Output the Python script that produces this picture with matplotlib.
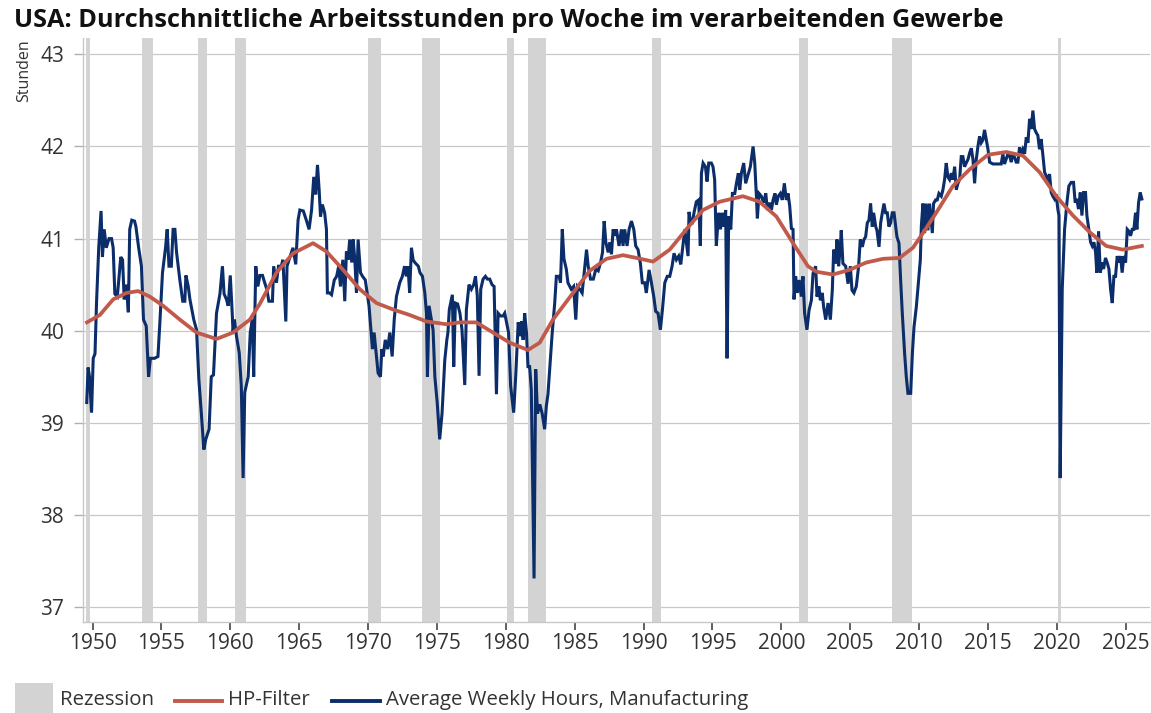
import matplotlib
matplotlib.use("Agg")
import matplotlib.pyplot as plt
from matplotlib.patches import Rectangle
from matplotlib.lines import Line2D

plt.rcParams['font.family'] = ['Open Sans', 'DejaVu Sans']

# Average weekly hours, manufacturing (decimal year, hours)
dates = [
    1949.58, 1949.68, 1949.78, 1949.93, 1950.05, 1950.18, 1950.29, 1950.45, 1950.62, 1950.72,
    1950.85, 1951.0, 1951.2, 1951.38, 1951.5, 1951.62, 1951.8, 1952.05, 1952.18, 1952.3,
    1952.45, 1952.6, 1952.7, 1952.85, 1953.05, 1953.15, 1953.35, 1953.55, 1953.7, 1953.9,
    1954.07, 1954.2, 1954.5, 1954.75, 1954.9, 1955.08, 1955.3, 1955.42, 1955.55, 1955.72,
    1955.85, 1955.98, 1956.1, 1956.34, 1956.55, 1956.7, 1956.78, 1956.95, 1957.07, 1957.35,
    1957.55, 1957.72, 1957.9, 1958.08, 1958.22, 1958.46, 1958.62, 1958.78, 1959.0, 1959.25,
    1959.43, 1959.55, 1959.72, 1959.85, 1960.0, 1960.15, 1960.2, 1960.3, 1960.45, 1960.65,
    1960.8, 1960.93, 1961.05, 1961.3, 1961.45, 1961.6, 1961.7, 1961.85, 1962.0, 1962.15,
    1962.34, 1962.5, 1962.65, 1962.8, 1963.06, 1963.15, 1963.35, 1963.5, 1963.7, 1963.82,
    1964.03, 1964.12, 1964.33, 1964.55, 1964.75, 1964.92, 1965.05, 1965.3, 1965.52, 1965.72,
    1965.9, 1966.06, 1966.2, 1966.33, 1966.45, 1966.55, 1966.68, 1966.85, 1966.98, 1967.05,
    1967.2, 1967.35, 1967.55, 1967.72, 1967.87, 1968.0, 1968.17, 1968.31, 1968.43, 1968.55,
    1968.67, 1968.82, 1968.92, 1969.04, 1969.16, 1969.28, 1969.45, 1969.6, 1969.8, 1970.07,
    1970.22, 1970.32, 1970.44, 1970.56, 1970.73, 1970.9, 1971.0, 1971.1, 1971.25, 1971.42,
    1971.58, 1971.75, 1971.9, 1972.06, 1972.3, 1972.49, 1972.65, 1972.78, 1972.9, 1973.02,
    1973.15, 1973.27, 1973.4, 1973.65, 1973.77, 1973.95, 1974.12, 1974.24, 1974.31, 1974.43,
    1974.6, 1974.72, 1974.85, 1975.02, 1975.2, 1975.37, 1975.57, 1975.72, 1975.8, 1975.9,
    1976.12, 1976.22, 1976.34, 1976.5, 1976.67, 1976.82, 1977.02, 1977.14, 1977.33, 1977.5,
    1977.67, 1977.8, 1977.93, 1978.06, 1978.18, 1978.35, 1978.52, 1978.66, 1978.83, 1979.0,
    1979.15, 1979.32, 1979.44, 1979.61, 1979.8, 1979.92, 1980.05, 1980.2, 1980.35, 1980.57,
    1980.72, 1980.9, 1981.02, 1981.14, 1981.26, 1981.37, 1981.5, 1981.61, 1981.73, 1981.85,
    1982.05, 1982.17, 1982.3, 1982.47, 1982.64, 1982.82, 1982.94, 1983.06, 1983.22, 1983.37,
    1983.55, 1983.67, 1983.87, 1983.97, 1984.1, 1984.22, 1984.39, 1984.51, 1984.75, 1984.92,
    1985.08, 1985.2, 1985.37, 1985.54, 1985.66, 1985.86, 1985.98, 1986.15, 1986.35, 1986.54,
    1986.71, 1986.88, 1987.02, 1987.14, 1987.26, 1987.43, 1987.55, 1987.67, 1987.79, 1987.91,
    1988.03, 1988.22, 1988.39, 1988.51, 1988.63, 1988.8, 1988.95, 1989.12, 1989.29, 1989.43,
    1989.6, 1989.77, 1989.91, 1990.08, 1990.2, 1990.4, 1990.57, 1990.74, 1990.88, 1991.05,
    1991.22, 1991.37, 1991.54, 1991.72, 1991.9, 1992.07, 1992.21, 1992.38, 1992.55, 1992.7,
    1992.82, 1992.99, 1993.11, 1993.23, 1993.3, 1993.42, 1993.54, 1993.66, 1993.83, 1994.0,
    1994.12, 1994.2, 1994.32, 1994.49, 1994.61, 1994.73, 1994.92, 1995.04, 1995.16, 1995.28,
    1995.41, 1995.48, 1995.58, 1995.72, 1995.84, 1995.96, 1996.06, 1996.18, 1996.33, 1996.45,
    1996.62, 1996.74, 1996.88, 1996.98, 1997.1, 1997.27, 1997.41, 1997.58, 1997.75, 1997.85,
    1997.95, 1998.07, 1998.19, 1998.26, 1998.38, 1998.55, 1998.72, 1998.87, 1998.99, 1999.16,
    1999.28, 1999.4, 1999.54, 1999.64, 1999.78, 1999.93, 2000.07, 2000.22, 2000.36, 2000.49,
    2000.61, 2000.73, 2000.85, 2000.92, 2001.04, 2001.16, 2001.3, 2001.45, 2001.57, 2001.69,
    2001.86, 2002.01, 2002.18, 2002.3, 2002.49, 2002.59, 2002.73, 2002.83, 2002.97, 2003.07,
    2003.22, 2003.39, 2003.56, 2003.7, 2003.8, 2003.94, 2004.04, 2004.16, 2004.28, 2004.35,
    2004.47, 2004.67, 2004.84, 2005.01, 2005.13, 2005.27, 2005.44, 2005.61, 2005.73, 2005.88,
    2006.0, 2006.12, 2006.24, 2006.36, 2006.48, 2006.6, 2006.7, 2006.85, 2006.94, 2007.09,
    2007.21, 2007.33, 2007.45, 2007.57, 2007.69, 2007.81, 2007.93, 2008.05, 2008.18, 2008.3,
    2008.39, 2008.54, 2008.66, 2008.78, 2008.95, 2009.07, 2009.19, 2009.39, 2009.51, 2009.63,
    2009.8, 2009.94, 2010.09, 2010.16, 2010.28, 2010.4, 2010.52, 2010.64, 2010.76, 2010.96,
    2011.05, 2011.2, 2011.32, 2011.44, 2011.61, 2011.73, 2011.85, 2011.97, 2012.09, 2012.21,
    2012.34, 2012.46, 2012.58, 2012.7, 2012.82, 2012.94, 2013.06, 2013.18, 2013.3, 2013.42,
    2013.55, 2013.67, 2013.79, 2013.91, 2014.03, 2014.15, 2014.27, 2014.39, 2014.51, 2014.63,
    2014.75, 2014.88, 2015.0, 2015.12, 2015.36, 2015.72, 2015.96, 2016.08, 2016.2, 2016.45,
    2016.57, 2016.69, 2016.81, 2017.05, 2017.17, 2017.29, 2017.41, 2017.53, 2017.66, 2017.78,
    2017.9, 2018.02, 2018.14, 2018.26, 2018.38, 2018.5, 2018.62, 2018.74, 2018.86, 2018.99,
    2019.11, 2019.23, 2019.35, 2019.47, 2019.59, 2019.71, 2019.83, 2019.95, 2020.07, 2020.15,
    2020.24, 2020.39, 2020.56, 2020.73, 2020.87, 2021.04, 2021.21, 2021.33, 2021.45, 2021.57,
    2021.7, 2021.82, 2021.94, 2022.08, 2022.18, 2022.32, 2022.45, 2022.57, 2022.69, 2022.81,
    2022.9, 2023.03, 2023.15, 2023.29, 2023.39, 2023.53, 2023.65, 2023.78, 2023.9, 2024.02,
    2024.14, 2024.26, 2024.38, 2024.5, 2024.62, 2024.74, 2024.86, 2024.99, 2025.11, 2025.23,
    2025.35, 2025.47, 2025.59, 2025.71, 2025.81, 2025.93, 2026.05, 2026.17,
]
hours = [
    39.22, 39.6, 39.5, 39.11, 39.7, 39.75, 40.3, 40.9, 41.3, 40.8,
    41.1, 40.9, 41.0, 41.0, 40.9, 40.4, 40.37, 40.8, 40.77, 40.34,
    40.5, 40.2, 41.1, 41.2, 41.19, 41.13, 40.9, 40.7, 40.12, 40.05,
    39.5, 39.7, 39.7, 39.72, 40.12, 40.63, 40.9, 41.1, 40.7, 40.7,
    41.1, 41.1, 40.85, 40.55, 40.32, 40.32, 40.6, 40.48, 40.34, 40.12,
    40.01, 39.47, 39.1, 38.71, 38.82, 38.93, 39.5, 39.52, 40.19, 40.4,
    40.7, 40.4, 40.34, 40.27, 40.6, 40.16, 39.98, 40.12, 39.94, 39.76,
    39.4, 38.4, 39.33, 39.5, 39.98, 40.12, 39.5, 40.7, 40.48, 40.6,
    40.6, 40.52, 40.45, 40.32, 40.32, 40.7, 40.52, 40.7, 40.7, 40.77,
    40.1, 40.7, 40.8, 40.9, 40.72, 41.2, 41.31, 41.3, 41.2, 41.1,
    41.31, 41.67, 41.48, 41.8, 41.53, 41.24, 41.37, 41.28, 41.1, 40.41,
    40.41, 40.39, 40.55, 40.59, 40.7, 40.48, 40.77, 40.32, 40.86, 40.77,
    40.99, 40.74, 40.99, 40.77, 40.41, 40.99, 40.63, 40.59, 40.55, 40.27,
    39.98, 39.8, 39.98, 39.8, 39.54, 39.5, 39.8, 39.72, 39.9, 39.8,
    39.98, 39.72, 40.12, 40.37, 40.52, 40.59, 40.7, 40.59, 40.7, 40.41,
    40.9, 40.77, 40.74, 40.7, 40.63, 40.59, 40.41, 40.19, 39.5, 40.27,
    40.12, 40.01, 39.5, 39.22, 38.82, 39.1, 39.68, 39.9, 39.98, 40.23,
    40.39, 39.61, 40.3, 40.29, 40.19, 40.01, 39.41, 40.23, 40.5, 40.45,
    40.5, 40.59, 40.38, 39.51, 40.45, 40.56, 40.59, 40.56, 40.56, 40.5,
    40.48, 39.31, 40.19, 40.16, 40.16, 40.19, 40.09, 39.98, 39.4, 39.11,
    39.51, 40.09, 39.94, 40.1, 39.9, 40.19, 39.98, 39.61, 39.61, 39.36,
    37.31, 39.58, 39.1, 39.2, 39.1, 38.93, 39.18, 39.31, 39.65, 39.98,
    40.3, 40.59, 40.59, 40.52, 41.1, 40.78, 40.67, 40.52, 40.45, 40.48,
    40.12, 40.48, 40.45, 40.41, 40.59, 40.88, 40.7, 40.56, 40.56, 40.67,
    40.65, 40.74, 40.85, 41.19, 40.96, 40.85, 40.96, 40.83, 41.1, 41.03,
    41.1, 40.92, 41.1, 40.92, 41.1, 40.92, 41.1, 41.19, 41.1, 40.92,
    40.88, 40.73, 40.52, 40.52, 40.41, 40.66, 40.52, 40.37, 40.21, 40.19,
    40.01, 40.23, 40.52, 40.59, 40.59, 40.7, 40.84, 40.77, 40.81, 40.72,
    40.88, 41.1, 40.95, 40.81, 41.29, 41.17, 41.17, 41.28, 41.4, 41.42,
    40.92, 41.71, 41.82, 41.78, 41.62, 41.82, 41.82, 41.78, 41.64, 40.92,
    41.2, 41.28, 41.1, 41.28, 41.13, 41.31, 39.7, 41.24, 41.1, 41.49,
    41.49, 41.6, 41.71, 41.53, 41.71, 41.82, 41.6, 41.69, 41.78, 41.89,
    42.0, 41.82, 41.46, 41.22, 41.49, 41.46, 41.39, 41.49, 41.31, 41.39,
    41.31, 41.42, 41.49, 41.37, 41.46, 41.49, 41.42, 41.6, 41.42, 41.49,
    41.35, 41.11, 41.1, 40.34, 40.59, 40.41, 40.55, 40.37, 40.59, 40.19,
    40.01, 40.22, 40.33, 40.62, 40.7, 40.37, 40.48, 40.33, 40.41, 40.26,
    40.12, 40.3, 40.12, 40.44, 40.88, 40.73, 40.99, 40.7, 40.91, 41.09,
    40.73, 40.7, 40.51, 40.7, 40.44, 40.41, 40.48, 40.7, 40.99, 40.91,
    40.99, 41.02, 41.17, 41.2, 41.38, 41.13, 41.28, 41.13, 41.09, 40.91,
    41.17, 41.28, 41.38, 41.28, 41.28, 41.13, 41.17, 41.28, 41.28, 41.13,
    41.02, 40.95, 40.55, 40.19, 39.75, 39.5, 39.32, 39.32, 39.75, 40.04,
    40.26, 40.51, 40.77, 41.13, 41.38, 41.06, 41.38, 41.09, 41.38, 41.06,
    41.38, 41.42, 41.42, 41.49, 41.46, 41.53, 41.64, 41.82, 41.67, 41.64,
    41.71, 41.64, 41.78, 41.53, 41.6, 41.64, 41.89, 41.89, 41.78, 41.82,
    41.86, 41.93, 41.98, 41.86, 41.6, 41.86, 42.0, 42.11, 42.04, 42.07,
    42.18, 42.07, 41.97, 41.83, 41.81, 41.81, 41.81, 41.92, 41.81, 41.92,
    41.9, 41.83, 41.93, 41.83, 41.83, 41.99, 41.92, 41.97, 41.92, 42.1,
    42.04, 42.3, 42.19, 42.39, 42.19, 42.15, 42.12, 41.97, 42.08, 41.9,
    41.72, 41.68, 41.64, 41.7, 41.5, 41.46, 41.43, 41.48, 41.32, 41.25,
    38.4, 40.45, 41.1, 41.39, 41.57, 41.61, 41.61, 41.39, 41.43, 41.32,
    41.5, 41.25, 41.5, 41.5, 41.25, 41.1, 40.96, 40.92, 40.96, 40.85,
    40.63, 41.08, 40.63, 40.74, 40.67, 40.79, 40.74, 40.67, 40.45, 40.3,
    40.59, 40.59, 40.81, 40.74, 40.81, 40.63, 40.81, 40.74, 41.1, 41.08,
    41.03, 41.1, 41.1, 41.28, 41.1, 41.39, 41.5, 41.43,
]

# HP-filter trend
hp_dates = [
    1949.6, 1950.53, 1951.5, 1952.47, 1953.31, 1954.16, 1955.13, 1956.34, 1957.55, 1959.0,
    1960.2, 1961.42, 1962.14, 1963.35, 1964.56, 1966.01, 1966.98, 1968.19, 1969.4, 1970.61,
    1971.82, 1973.03, 1974.24, 1975.69, 1976.65, 1977.86, 1979.07, 1980.28, 1981.61, 1982.46,
    1983.42, 1984.88, 1986.09, 1987.3, 1988.5, 1989.48, 1990.69, 1991.9, 1993.1, 1994.31,
    1995.52, 1997.21, 1998.42, 1999.64, 2000.85, 2001.93, 2002.54, 2003.74, 2004.95, 2006.16,
    2007.37, 2008.58, 2009.55, 2010.28, 2011.24, 2012.45, 2013.66, 2015.0, 2016.33, 2017.54,
    2018.75, 2019.96, 2021.17, 2022.38, 2023.58, 2024.79, 2026.17,
]
hp_values = [
    40.09, 40.17, 40.34, 40.41, 40.43, 40.37, 40.27, 40.12, 39.98, 39.91,
    39.98, 40.12, 40.29, 40.63, 40.84, 40.95, 40.86, 40.66, 40.45, 40.3,
    40.23, 40.17, 40.1, 40.07, 40.09, 40.09, 39.98, 39.87, 39.79, 39.87,
    40.12, 40.41, 40.65, 40.78, 40.82, 40.79, 40.75, 40.88, 41.1, 41.31,
    41.4, 41.46, 41.4, 41.24, 40.95, 40.7, 40.64, 40.61, 40.66, 40.74,
    40.78, 40.79, 40.9, 41.06, 41.28, 41.57, 41.75, 41.91, 41.94, 41.9,
    41.72, 41.46, 41.25, 41.07, 40.92, 40.88, 40.92,
]

# NBER recessions
rec_start = [1949.5, 1953.6, 1957.67, 1960.33, 1970.0, 1973.92, 1980.08, 1981.58, 1990.58, 2001.25, 2008.0, 2020.08]
rec_end = [1949.83, 1954.42, 1958.33, 1961.17, 1970.92, 1975.25, 1980.58, 1982.92, 1991.25, 2001.92, 2009.5, 2020.33]

x_ticks = list(range(1950, 2026, 5))
y_ticks = [37, 38, 39, 40, 41, 42, 43]

navy = '#0b2d69'
red = '#c15a4b'
band = '#d3d3d3'

fig = plt.figure(figsize=(11.51, 7.13), dpi=100)
ax = fig.add_axes([0.072, 0.128, 0.927, 0.819])

for s, e in zip(rec_start, rec_end):
    ax.axvspan(s, e, color=band, lw=0, zorder=1)

ax.plot(dates, hours, color=navy, lw=2.2, zorder=3, solid_joinstyle='miter')
ax.plot(hp_dates, hp_values, color=red, lw=2.7, zorder=4)

ax.set_xlim(1949.3, 2026.75)
ax.set_ylim(36.84, 43.18)
ax.set_xticks(x_ticks)
ax.set_yticks(y_ticks)
ax.grid(axis='y', color='#c8c8c8', lw=0.9, zorder=0)
ax.set_axisbelow(True)

for side in ['top', 'right']:
    ax.spines[side].set_visible(False)
for side in ['left', 'bottom']:
    ax.spines[side].set_color('#c8c8c8')
    ax.spines[side].set_linewidth(1.0)

ax.tick_params(axis='x', direction='out', length=6, width=1.2, color='#444444',
               labelsize=15, labelcolor='#333333', pad=2)
ax.tick_params(axis='y', direction='out', length=6.5, width=1.0, color='#b0b0b0',
               labelsize=15, labelcolor='#333333', pad=7)

fig.text(0.012, 0.971, 'USA: Durchschnittliche Arbeitsstunden pro Woche im verarbeitenden Gewerbe',
         fontsize=18.2, fontweight='bold', ha='left', va='center', color='#111111')
fig.text(0.021, 0.945, 'Stunden', rotation=90, ha='center', va='top', fontsize=11.5, color='#333333')

# legend at the bottom
fig.patches.append(Rectangle((15 / 1151, 0), 38 / 1151, 30 / 713, transform=fig.transFigure,
                             facecolor=band, edgecolor='none'))
fig.text(60 / 1151, 0.018, 'Rezession', fontsize=14.7, color='#333333', ha='left', va='center')
fig.lines.append(Line2D([175 / 1151, 222 / 1151], [0.017, 0.017], transform=fig.transFigure,
                        color=red, lw=2.8))
fig.text(228 / 1151, 0.018, 'HP-Filter', fontsize=14.7, color='#333333', ha='left', va='center')
fig.lines.append(Line2D([332 / 1151, 380 / 1151], [0.017, 0.017], transform=fig.transFigure,
                        color=navy, lw=2.8))
fig.text(386 / 1151, 0.018, 'Average Weekly Hours, Manufacturing', fontsize=14.7, color='#333333',
         ha='left', va='center')

fig.savefig('out.png', dpi=100)
